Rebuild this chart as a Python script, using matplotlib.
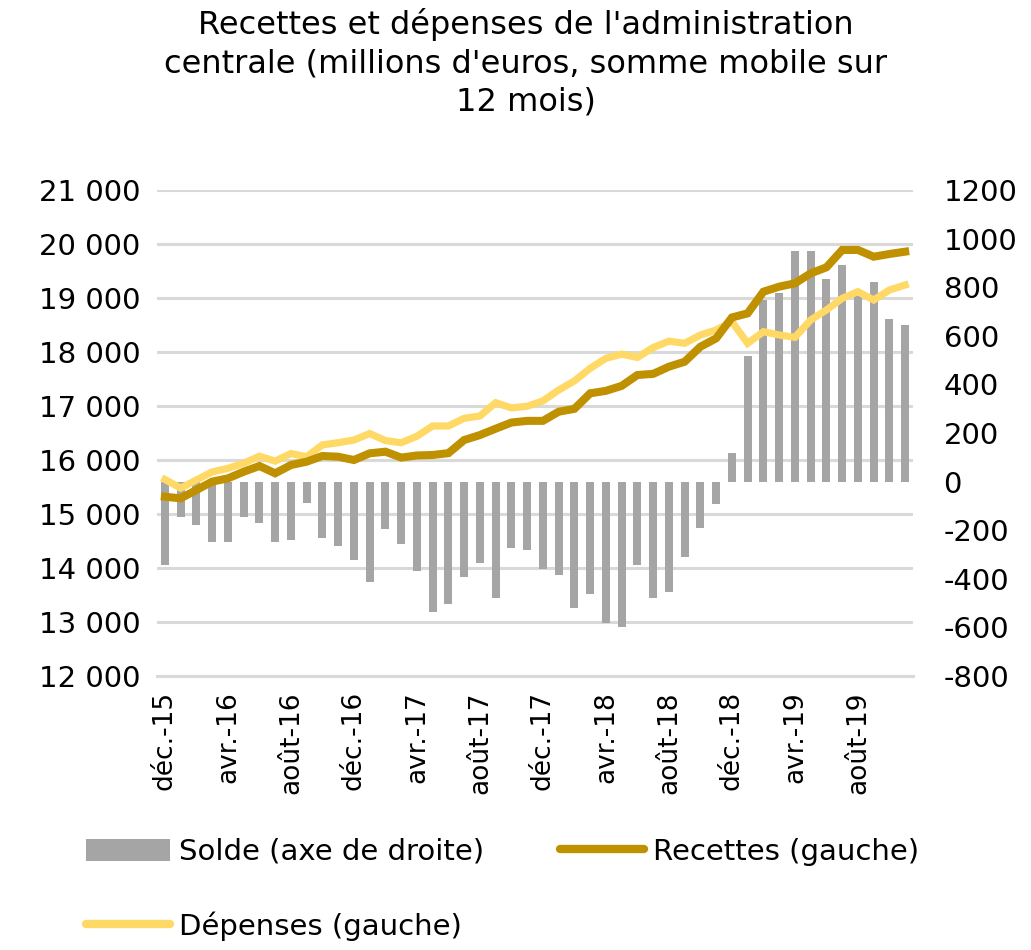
import matplotlib

matplotlib.use("Agg")
import matplotlib.pyplot as plt
from matplotlib.patches import Patch
from matplotlib.lines import Line2D
from matplotlib.ticker import FuncFormatter, MultipleLocator

# monthly series, déc.-15 to nov.-19
MONTHS_FR = ["janv.", "févr.", "mars", "avr.", "mai", "juin",
             "juil.", "août", "sept.", "oct.", "nov.", "déc."]
months = [f"{MONTHS_FR[(11 + k) % 12]}-{15 + (11 + k) // 12}" for k in range(48)]

solde = [-343, -144, -180, -247, -247, -147, -172, -247, -240, -89, -231, -265,
         -323, -412, -196, -257, -367, -538, -504, -394, -334, -478, -275, -282,
         -358, -384, -522, -463, -581, -597, -343, -478, -454, -309, -190, -93,
         116, 517, 747, 775, 950, 950, 832, 891, 768, 823, 669, 644]
recettes = [15320, 15290, 15444, 15600, 15660, 15783, 15889, 15754, 15907, 15969, 16074, 16061,
            16000, 16124, 16154, 16045, 16084, 16093, 16127, 16370, 16462, 16580, 16694, 16725,
            16725, 16894, 16948, 17235, 17281, 17373, 17574, 17595, 17728, 17820, 18098, 18253,
            18640, 18716, 19117, 19210, 19272, 19457, 19568, 19889, 19890, 19765, 19815, 19858]
depenses = [15640, 15480, 15630, 15780, 15845, 15940, 16070, 15980, 16120, 16060, 16280, 16320,
            16370, 16490, 16360, 16320, 16440, 16630, 16630, 16772, 16815, 17061, 16965, 16995,
            17095, 17295, 17465, 17698, 17883, 17960, 17900, 18083, 18200, 18161, 18315, 18407,
            18561, 18161, 18376, 18315, 18272, 18593, 18778, 18994, 19117, 18963, 19148, 19241]

GREY = "#A5A5A5"
DARK_GOLD = "#BF9000"
LIGHT_GOLD = "#FFD966"
GRID = "#D9D9D9"

plt.rcParams["font.family"] = ["DejaVu Sans"]

fig = plt.figure(figsize=(10.31, 9.5), dpi=100)
ax = fig.add_axes([0.1523, 0.2884, 0.7333, 0.5116])
ax_bar = ax.twinx()
ax_line = ax.twinx()

x = list(range(len(months)))

# left axis: grid + labels
ax.set_ylim(12000, 21000)
ax.yaxis.set_major_locator(MultipleLocator(1000))
ax.yaxis.set_major_formatter(FuncFormatter(lambda v, _: f"{int(v):,}".replace(",", " ")))
ax.grid(axis="y", color=GRID, linewidth=2.2)
ax.set_axisbelow(True)

# right axis: bars
ax_bar.bar(x, solde, width=0.5, color=GREY, zorder=2)
ax_bar.set_ylim(-800, 1200)
ax_bar.yaxis.set_major_locator(MultipleLocator(200))
ax_bar.yaxis.set_major_formatter(FuncFormatter(lambda v, _: f"{int(v)}"))

# lines, drawn on top of the bars, on the left scale
ax_line.plot(x, depenses, color=LIGHT_GOLD, linewidth=5.2, solid_joinstyle="miter")
ax_line.plot(x, recettes, color=DARK_GOLD, linewidth=5.8, solid_joinstyle="miter")
ax_line.set_ylim(ax.get_ylim())
ax_line.yaxis.set_visible(False)

for a in (ax, ax_bar, ax_line):
    a.set_xlim(-0.5, len(months) - 0.5)
    for side in ("top", "left", "right", "bottom"):
        a.spines[side].set_visible(False)

ax.spines["bottom"].set_visible(True)
ax.spines["bottom"].set_color(GRID)
ax.spines["bottom"].set_linewidth(2.2)

ax.tick_params(axis="y", length=0, pad=12, labelsize=21)
ax_bar.tick_params(axis="y", length=0, pad=22, labelsize=21)

# x ticks at category boundaries, labels every 4 months
ax.set_xticks([i - 0.5 for i in range(0, len(months) + 1, 4)])
ax.set_xticklabels([])
ax.set_xticks(x[::4], minor=True)
ax.set_xticklabels(months[::4], minor=True, rotation=90, fontsize=19)
ax.tick_params(axis="x", which="major", length=9, width=2, color=GRID)
ax.tick_params(axis="x", which="minor", length=0, pad=11)
for a in (ax_bar, ax_line):
    a.set_xticks([])

fig.suptitle("Recettes et dépenses de l'administration\n"
             "centrale (millions d'euros, somme mobile sur\n12 mois)",
             x=0.51, y=0.992, va="top", fontsize=23, linespacing=1.32)

handles = [
    Patch(facecolor=GREY, edgecolor="none", label="Solde (axe de droite)"),
    Line2D([], [], color=LIGHT_GOLD, linewidth=6, solid_capstyle="round", label="Dépenses (gauche)"),
    Line2D([], [], color=DARK_GOLD, linewidth=6, solid_capstyle="round", label="Recettes (gauche)"),
]
fig.legend(handles=handles, loc="upper left", bbox_to_anchor=(0.083, 0.118),
           ncol=2, frameon=False, borderpad=0, borderaxespad=0,
           handlelength=2.9, handleheight=0.8, handletextpad=0.3,
           columnspacing=2.6, labelspacing=1.55,
           prop={"size": 21})

fig.savefig("out.png", dpi=100)
